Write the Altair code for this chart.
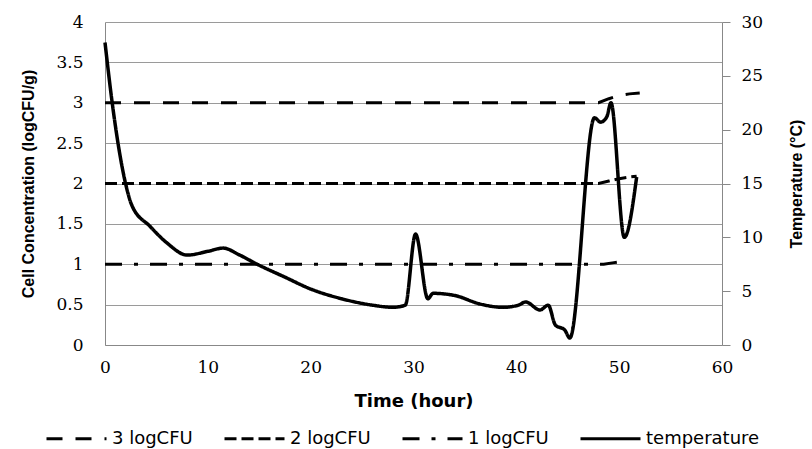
import altair as alt
import pandas as pd

# Predicted time-to-threshold lines (log CFU/g) against time (hour)
t3 = [0, 48, 49, 50, 51, 52]
v3 = [3.0, 3.0, 3.05, 3.09, 3.11, 3.12]
t2 = [0, 48, 49, 50, 51, 51.7]
v2 = [2.0, 2.0, 2.03, 2.06, 2.08, 2.09]
t1 = [0, 48.5, 49.5, 50.6]
v1 = [1.0, 1.0, 1.02, 1.04]

# Recorded temperature (°C) against time (hour)
temp_t = [0, 0.7, 2.0, 2.6, 4.4, 6, 8, 10, 11.5, 13, 14.8, 17.5, 20, 23, 26,
          28, 29.2, 30.2, 31.4, 31.9, 34, 36.5, 38.7, 40.2, 40.9, 42.3, 43.1,
          43.8, 44.7, 45.2, 47.6, 48.2, 48.8, 49.2, 50.5, 51.7]
temp_v = [28.1, 22.5, 15.0, 13.0, 11.0, 9.5, 8.35, 8.7, 9.0, 8.4, 7.5, 6.3,
          5.2, 4.3, 3.7, 3.5, 3.7, 10.3, 4.3, 4.8, 4.6, 3.8, 3.5, 3.7, 4.0,
          3.25, 3.7, 1.85, 1.4, 0.65, 21.1, 20.7, 21.2, 22.5, 10.0, 15.6]

series_names = ["3 logCFU", "2 logCFU", "1 logCFU", "temperature"]
dash_styles = [[16, 13], [12, 5], [17, 12, 4, 12], [1, 0]]

rows = []
for name, ts, vs in [("3 logCFU", t3, v3), ("2 logCFU", t2, v2), ("1 logCFU", t1, v1)]:
    for t, v in zip(ts, vs):
        rows.append({"series": name, "time": t, "value": v})
log_df = pd.DataFrame(rows)
temp_df = pd.DataFrame({"series": "temperature", "time": temp_t, "temp": temp_v})

dash_scale = alt.Scale(domain=series_names, range=dash_styles)
legend = alt.Legend(
    title=None, orient="none", legendX=-60, legendY=385, direction="horizontal",
    symbolType="stroke", symbolSize=3600, symbolStrokeWidth=3,
    symbolStrokeColor="black", labelFont="DejaVu Sans", labelFontSize=18,
    labelColor="black", labelOffset=4, columnPadding=25, padding=0,
)

x_enc = alt.X(
    "time:Q", scale=alt.Scale(domain=[0, 60], nice=False),
    axis=alt.Axis(title="Time (hour)", values=list(range(0, 61, 10)), grid=False,
                  ticks=False, labelFlush=False, labelPadding=14, titlePadding=17,
                  titleFont="DejaVu Sans", titleFontSize=18, titleFontWeight="bold"),
)

log_lines = alt.Chart(log_df).mark_line(color="black", strokeWidth=3).encode(
    x=x_enc,
    y=alt.Y("value:Q", scale=alt.Scale(domain=[0, 4], nice=False),
            axis=alt.Axis(title="Cell Concentration (logCFU/g)", orient="left",
                          values=[0, 0.5, 1, 1.5, 2, 2.5, 3, 3.5, 4],
                          format="~g", grid=True, ticks=False, labelPadding=22,
                          titlePadding=19)),
    strokeDash=alt.StrokeDash("series:N", scale=dash_scale, legend=legend),
    detail="series:N",
)

temp_line = alt.Chart(temp_df).mark_line(
    color="black", strokeWidth=3.5, interpolate="monotone"
).encode(
    x=x_enc,
    y=alt.Y("temp:Q", scale=alt.Scale(domain=[0, 30], nice=False),
            axis=alt.Axis(title="Temperature (°C)", orient="right",
                          values=[0, 5, 10, 15, 20, 25, 30], grid=False,
                          ticks=True, tickSize=8, tickColor="#888888",
                          labelPadding=11, titlePadding=42, titleAngle=270)),
    strokeDash=alt.StrokeDash("series:N", scale=dash_scale, legend=legend),
)

chart = (
    alt.layer(log_lines, temp_line)
    .resolve_scale(y="independent")
    .properties(
        width=617, height=323,
        autosize=alt.AutoSizeParams(type="none"),
        padding={"left": 105, "top": 22, "right": 90, "bottom": 104},
    )
    .configure(background="white")
    .configure_view(stroke=None)
    .configure_axis(
        domainColor="#888888", domainWidth=1, gridColor="#9a9a9a", gridWidth=1,
        labelFont="DejaVu Serif", labelFontSize=17, labelColor="black",
        titleFont="Liberation Sans", titleFontSize=16, titleFontWeight="bold",
        titleColor="black",
    )
)

chart.save("out.html", embed_options={"renderer": "svg", "actions": False})
